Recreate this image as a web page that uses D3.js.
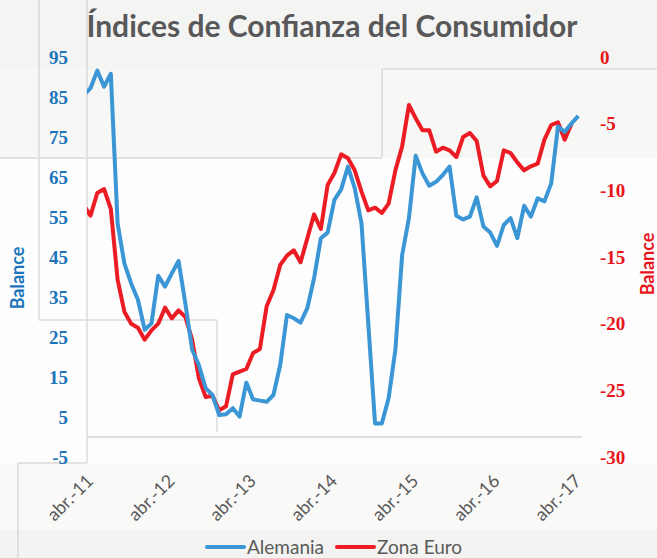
<!DOCTYPE html>
<html>
<head>
<meta charset="utf-8">
<script src="https://cdn.jsdelivr.net/npm/d3@7"></script>
<style>
  body { margin: 0; background: #fff; }
  svg { display: block; }
</style>
</head>
<body>
<svg id="chart" width="657" height="558"></svg>
<script>
// monthly values, first value = mar-11 (index -1), abr-11 = index 0
var firstIndex = -1;
var alemania = [
    85.4, 87.2, 91.6, 87.6, 90.8, 53.4, 43.4, 38.4, 34.3, 26.8,
    28.4, 40.3, 37.6, 40.9, 44.0, 33.4, 21.8, 18.0, 12.2, 10.5, 5.5, 5.7,
    7.2, 5.1, 13.6, 9.4, 9.1, 8.8, 10.5, 18.0, 30.5, 29.7, 28.6, 32.2,
    39.7, 49.7, 51.1, 59.3, 61.9, 67.6, 62.2, 53.4, 28.4, 3.4, 3.4, 9.7,
    21.8, 45.5, 54.7, 70.3, 65.9, 62.8, 63.8, 65.5, 67.6, 55.3, 54.4, 55.1,
    59.9, 52.6, 51.1, 47.8, 53.0, 54.7, 49.7, 57.8, 55.1, 59.7, 58.9, 63.4,
    77.6, 76.3, 78.4, 80.3
];
var zonaEuro = [
    -11.1, -11.9, -10.2, -9.9, -11.4, -16.7, -19.1, -20.0, -20.3, -21.2,
    -20.5, -20.0, -18.8, -19.6, -19.0, -19.5, -21.2, -24.1, -25.5, -25.4, -26.5, -26.2,
    -23.8, -23.6, -23.4, -22.2, -21.9, -18.7, -17.5, -15.6, -14.9, -14.5, -15.4, -13.6,
    -11.8, -12.9, -9.6, -8.7, -7.3, -7.6, -8.5, -10.1, -11.5, -11.3, -11.7, -11.0,
    -8.5, -6.7, -3.6, -4.6, -5.5, -5.5, -7.1, -6.8, -7.0, -7.5, -6.0, -5.7,
    -6.3, -8.9, -9.7, -9.3, -7.0, -7.2, -7.9, -8.5, -8.2, -8.0, -6.2, -5.1,
    -4.9, -6.2, -5.0
];
var tickLabels = ["abr.-11", "abr.-12", "abr.-13", "abr.-14", "abr.-15", "abr.-16", "abr.-17"];
var leftTicks = [-5, 5, 15, 25, 35, 45, 55, 65, 75, 85, 95];
var rightTicks = [-30, -25, -20, -15, -10, -5, 0];
var keys = ["Alemania", "Zona Euro"];

var blue = "#3a96d4", red = "#ec1c24";
var blueText = "#1b75bb", redText = "#e8141c";

var svg = d3.select("#chart");

// background panels (the grey bands of the original capture)
svg.append("rect").attr("width", 657).attr("height", 558).attr("fill", "#fdfdfd");
svg.append("rect").attr("width", 657).attr("height", 158).attr("fill", "#f7f7f6");
svg.append("rect").attr("width", 657).attr("height", 69).attr("fill", "#f4f4f2");
svg.append("rect").attr("y", 463).attr("width", 657).attr("height", 95).attr("fill", "#f9f9f8");
svg.append("rect").attr("y", 530).attr("width", 657).attr("height", 28).attr("fill", "#f3f3f1");

var frame = [
    [39, 0, 39, 320], [0, 158, 382, 158], [382, 69, 382, 158], [382, 69, 657, 69],
    [39, 320, 217, 320], [217, 320, 217, 432], [87, 0, 87, 463], [18, 463, 87, 463],
    [18, 463, 18, 558]
];
svg.append("g").selectAll("line")
    .data(frame)
    .enter().append("line")
    .attr("x1", function(d) { return d[0]; })
    .attr("y1", function(d) { return d[1]; })
    .attr("x2", function(d) { return d[2]; })
    .attr("y2", function(d) { return d[3]; })
    .attr("stroke", "#dadada")
    .attr("stroke-width", 1.5);

var x = d3.scaleLinear().domain([0, 72]).range([90.5, 578.3]);
var yLeft = d3.scaleLinear().domain([-5, 95]).range([457, 57]);
var yRight = d3.scaleLinear().domain([-30, 0]).range([457, 57]);

// category axis, crossing at 0 on the left axis
svg.append("line")
    .attr("x1", 87)
    .attr("x2", 582)
    .attr("y1", yLeft(0))
    .attr("y2", yLeft(0))
    .attr("stroke", "#d4d4d4")
    .attr("stroke-width", 1.5);

// title
svg.append("text")
    .attr("x", 332)
    .attr("y", 37)
    .attr("text-anchor", "middle")
    .attr("font-family", "Lato, sans-serif")
    .attr("font-weight", "bold")
    .attr("font-size", 30)
    .attr("fill", "#58585a")
    .text("Índices de Confianza del Consumidor");

// left axis
svg.append("g")
    .selectAll("text")
    .data(leftTicks)
    .enter().append("text")
    .attr("x", 68)
    .attr("y", function(d) { return yLeft(d); })
    .attr("dy", "0.35em")
    .attr("text-anchor", "end")
    .attr("font-family", "'Liberation Serif', serif")
    .attr("font-weight", "bold")
    .attr("font-size", 19)
    .attr("fill", blueText)
    .text(function(d) { return d; });

// right axis
svg.append("g")
    .selectAll("text")
    .data(rightTicks)
    .enter().append("text")
    .attr("x", 600)
    .attr("y", function(d) { return yRight(d); })
    .attr("dy", "0.35em")
    .attr("font-family", "'Liberation Serif', serif")
    .attr("font-weight", "bold")
    .attr("font-size", 19)
    .attr("fill", redText)
    .text(function(d) { return d; });

svg.append("text")
    .attr("transform", "translate(24,278) rotate(-90)")
    .attr("text-anchor", "middle")
    .attr("font-family", "Lato, sans-serif")
    .attr("font-weight", "bold")
    .attr("font-size", 18)
    .attr("fill", blueText)
    .text("Balance");

svg.append("text")
    .attr("transform", "translate(654,264) rotate(-90)")
    .attr("text-anchor", "middle")
    .attr("font-family", "Lato, sans-serif")
    .attr("font-weight", "bold")
    .attr("font-size", 18)
    .attr("fill", redText)
    .text("Balance");

// x tick labels
svg.append("g")
    .selectAll("text")
    .data(tickLabels)
    .enter().append("text")
    .attr("transform", function(d, i) { return "translate(" + (x(i * 12) + 4) + ",482) rotate(-45)"; })
    .attr("text-anchor", "end")
    .attr("font-family", "Lato, sans-serif")
    .attr("font-size", 18)
    .attr("fill", "#5a5a5a")
    .text(function(d) { return d; });

// lines
svg.append("clipPath")
    .attr("id", "plotClip")
    .append("rect")
    .attr("x", 87)
    .attr("y", 0)
    .attr("width", 520)
    .attr("height", 470);

var lineLeft = d3.line()
    .x(function(d, i) { return x(i + firstIndex); })
    .y(function(d) { return yLeft(d); });
var lineRight = d3.line()
    .x(function(d, i) { return x(i + firstIndex); })
    .y(function(d) { return yRight(d); });

var plot = svg.append("g").attr("clip-path", "url(#plotClip)");

plot.append("path")
    .datum(zonaEuro)
    .attr("fill", "none")
    .attr("stroke", red)
    .attr("stroke-width", 4)
    .attr("stroke-linejoin", "round")
    .attr("d", lineRight);

plot.append("path")
    .datum(alemania)
    .attr("fill", "none")
    .attr("stroke", blue)
    .attr("stroke-width", 4)
    .attr("stroke-linejoin", "round")
    .attr("d", lineLeft);

// legend
var legend = svg.append("g")
    .selectAll("g")
    .data(keys)
    .enter().append("g")
    .attr("transform", function(d, i) { return "translate(" + (207 + i * 130) + ",547)"; });

legend.append("line")
    .attr("x1", 0)
    .attr("x2", 37)
    .attr("stroke", function(d, i) { return i ? red : blue; })
    .attr("stroke-width", 4)
    .attr("stroke-linecap", "round");

legend.append("text")
    .attr("x", 40)
    .attr("dy", "0.35em")
    .attr("font-family", "Lato, sans-serif")
    .attr("font-size", 19)
    .attr("fill", "#5a5a5a")
    .text(function(d) { return d; });
</script>
</body>
</html>
